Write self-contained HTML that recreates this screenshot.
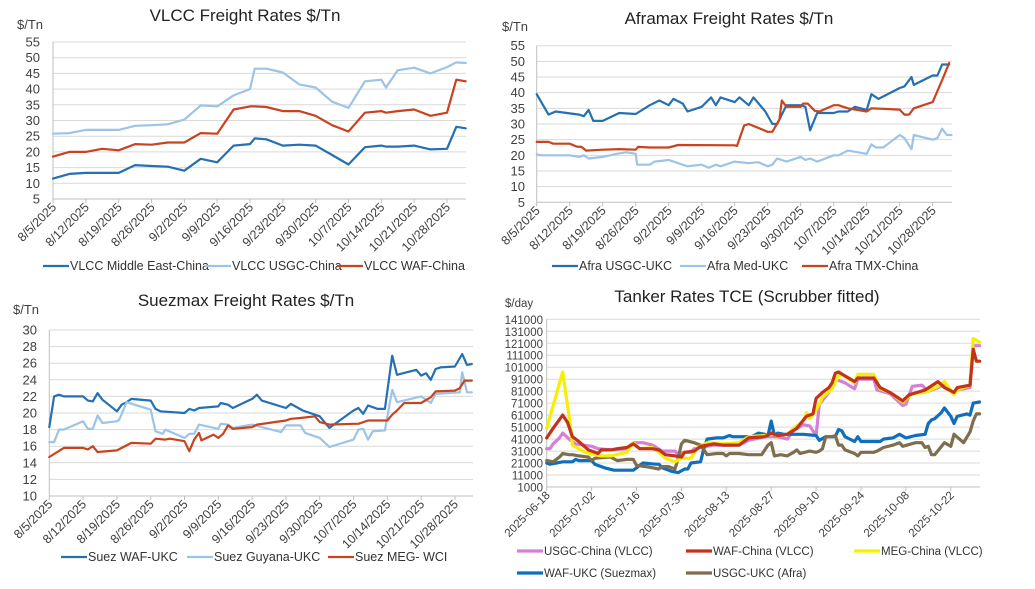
<!DOCTYPE html>
<html><head><meta charset="utf-8"><style>
html,body{margin:0;padding:0;background:#fff;}
svg{display:block;font-family:"Liberation Sans",sans-serif;}
</style></head><body>
<svg id="s" width="1035" height="589" viewBox="0 0 1035 589"></svg>
<script>
// ---- VLCC ----
const vlccDays=[0,3.5,7,10.5,14,17.5,21,24.5,28,31.5,35,38.5,42,43,45.5,49,52.5,56,59.5,63,66.5,70,71,73.5,77,80.5,84,86,88];
const vlccMeVals=[11.5,13,13.3,13.3,13.3,15.8,15.5,15.3,14,17.8,16.7,22,22.5,24.3,24,22,22.3,22,19,16,21.5,22,21.7,21.7,22,20.8,21,28,27.5];
const vlccUsgcVals=[25.8,26,27,27,27,28.3,28.5,28.8,30.3,34.8,34.5,38,40,46.5,46.5,45.3,41.5,40.5,36,34,42.5,43,40.5,46,46.8,45,47,48.5,48.3];
const vlccWafVals=[18.5,20,20,21,20.5,22.5,22.3,23,23,26,25.8,33.5,34.5,34.5,34.3,33,33,31.5,28.5,26.5,32.5,33,32.5,33,33.5,31.5,32.5,43,42.5];
const weeklyLabels=["8/5/2025","8/12/2025","8/19/2025","8/26/2025","9/2/2025","9/9/2025","9/16/2025","9/23/2025","9/30/2025","10/7/2025","10/14/2025","10/21/2025","10/28/2025"];
const tnTicks=[5,10,15,20,25,30,35,40,45,50,55];
// ---- Aframax ----
const afraUsgcDays=[0,2.5,4,9,10,11,12,14,17.5,21,24,26,28,29,31,32,35,37,38,39,42,43,45,46,48.5,50,51,53,56,57,58,59.5,63,64,66,67.5,70,71,72.5,77,78,79.5,80,84,85,86,87.5];
const afraUsgcVals=[39.5,33,34,33,32.5,34.5,31,31,33.5,33.2,36,37.5,36,38,36.5,34,35.5,38.5,36,38.5,37,38.5,36,38.5,34,30,30,36,36,35.5,28,33.5,33.5,34,34,35.5,34.5,39.5,38,41.5,42,45,42.5,45.5,45.5,49,49];
const afraMedDays=[0,1,7,9,10,11,14,17,19,21,21.3,24,25,28,32,35,36.5,38,39,42,45,47,49,50,51,53,56,57,58,59.5,63,64,66,70,71,72,73.5,77,78,79.5,80,84,85,86,87,88];
const afraMedVals=[20.3,20,20,19.5,20,19,19.5,20.5,21,20.5,17,17,18,18.5,16.5,17,16,17,16.5,18,17.5,17.8,16.5,17,19,18,19.5,18.5,19,18,20,20,21.5,20.5,23.5,22.5,22.5,26.5,25.5,22,26.5,25,25.5,28.5,26.5,26.5];
const afraTmxDays=[0,2.5,3.5,7,8.5,9.5,10.5,14,17.5,21,21.5,24,28,30,42,42.5,44,45,49,50,51.5,52,53,56,56.5,57.5,59,60,63,64,66,70,71,77,78,79,80,84,85,86,87.5];
const afraTmxVals=[24.3,24.3,23.7,23.7,22.8,22.7,21.5,21.8,22,21.8,22.7,22.5,22.5,23.3,23.2,23,29.5,30,27.5,27.5,31.5,37.5,35.5,35.5,36.5,36.5,34.2,34,36,36,35,34,35,34.6,33,33,35,37,40.5,44,49.5];
// ---- Suezmax ----
const suezWafDays=[0,1,2,3,7,8,9,10,11,14,15,16,17,21,22,23,28,29,30,31,35,35.5,37,38,42,43,44,49,50,52.5,56,58,63,64,65,66,68,69.5,71,72,76,77,78,79,80,81,84,85.5,86.5,87.5];
const suezWafVals=[18.3,22,22.2,22,22,21.5,21.4,22.4,21.6,20.2,21,21.3,21.7,21.5,20.5,20.2,20,20.5,20.3,20.6,20.8,21.2,21,20.6,21.7,22.2,21.5,20.6,21.1,20.3,19.6,18.2,20.3,20.6,19.9,20.9,20.5,20.5,26.9,24.6,25.2,24.5,24.8,24,25.3,25.5,25.6,27.1,25.8,25.9];
const suezGuyDays=[0,1,2,3,7,8,9,10,11,14,14.5,16,21,22,23.5,24,28,29,30,31,35,35.5,37,38,42,48,49,52,53,56,58,63,64,65,66,67,69.5,71,72,77,78,79,80,85,85.5,86.5,87.5];
const suezGuyVals=[16.5,16.5,18,18,19,18.1,18.1,19.7,18.8,19,19.2,21.3,20.4,17.8,17.5,18,17,17.5,17.5,18.6,18.1,18.7,18.6,18.2,18.6,17.7,18.5,18.5,17.6,17,15.9,16.8,18,18.1,16.8,17.8,17.9,22.8,21.3,22,21.6,21.2,22.3,22.5,24.9,22.5,22.5];
const suezMegDays=[0,3,7,8,9,10,14,17,21,22,24,25,28,29,30,31,31.5,34,35,36,37,38,42,43,49,50,52,55,56,58,63,64,66,70,71,72,73.5,77,79,80,84,85,86,87.5];
const suezMegVals=[14.7,15.8,15.8,15.6,16,15.3,15.5,16.4,16.3,16.9,16.8,16.9,16.6,15.4,16.8,17.6,16.7,17.4,17,17.5,18.5,18.1,18.3,18.6,19.1,19.3,19.4,19.6,18.9,18.6,18.7,18.7,19.1,19.1,19.8,20.3,21.2,21.2,21.9,22.6,22.7,23,23.9,23.9];
const suezTicks=[10,12,14,16,18,20,22,24,26,28,30];
// ---- TCE (thousand $/day) ----
const tceLabels=["2025-06-18","2025-07-02","2025-07-16","2025-07-30","2025-08-13","2025-08-27","2025-09-10","2025-09-24","2025-10-08","2025-10-22"];
const tceTicks=[1,11,21,31,41,51,61,71,81,91,101,111,121,131,141];
const tceMegDays=[0,5,7.5,8,12,15,17,20,25,27,29,33,35,37,40,42,45,47,50,55,60,63,68,70,72,75,77,80,81,82,84,86,89,91,92,96,97,102,104,107,111,114,118,122,124,127,128,132,133,135];
const tceMegVals=[50,97,50,36,30,28,27,27,30,38,33,34,30,25,22,25,25,34,38,37,38,43,44,45,44,45,50,56,63,58,65,76,83,94,95,88,95,95,83,80,72,79,80,85,89,78,82,86,125,122];
const tceWafDays=[0,2,5,6.5,8,10,13,15,16,17,20,22,25,27,29,33,35,37,40,42,43,46,48,52,55,60,63,68,70,72,75,78,81,83,84,86,88,89,90,91,96,97,102,104,107,111,113,118,122,124,127,128,132,133,134,135];
const tceWafVals=[42,50,61,55,43,39,32,30,29,32,32,33,34,37,33,33,32,28,27,26,30,31,35,37,36,36,42,43,46,44,45,50,60,62,75,80,84,88,96,97,89,92,92,84,80,73,78,82,89,84,80,84,86,116,106,106];
const tceUsgcChDays=[0,1,2,4,5,7,9,14,16,20,25,27,30,33,36,40,41,43,45,46,48,52,55,60,63,68,72,75,77,80,82,84,85,88,90,93,96,97,102,103,107,111,112,114,117,119,122,124,127,128,132,133,135];
const tceUsgcChVals=[33,33,37,42,46,41,37,35,33,32,33,38,38,36,31,31,28,30,30,33,34,36,36,36,40,43,43,41,48,53,52,44,70,80,91,88,83,91,91,82,79,69,70,85,86,81,84,87,79,82,84,119,119];
const tceWafUkcDays=[0,1,3,5,8,9,10,14,15,18,21,25,27,28,30,34,35,36,39,41,43,44,45,48,49,50,53,55,57,58,64,66,68,69,70,71,72,74,80,84,85,87,90,91,92,93,96,97,98,104,105,108,110,112,115,118,119,120,121,123,124,126,127,128,131,132,133,135];
const tceWafUkcVals=[21,20,21,22,22,24,23,23,20,17,15,15,15,17,21,20,20,17,14,13,16,16,21,22,33,41,42,42,44,43,43,46,45,44,56,44,46,45,45,44,40,43,43,49,48,43,39,43,39,39,41,42,45,42,44,45,54,57,58,63,67,60,54,60,62,61,71,72];
const tceAfraDays=[0,2,4,5,7,8,10,13,14,15,19,20,22,25,27,28,31,35,36,38,40,41,42,43,46,48,50,53,55,56,57,60,63,67,69,70,71,73,75,77,78,79,82,84,85,86,87,89,90,91,92,93,96,97,98,102,103,105,108,110,111,115,117,118,119,120,121,124,126,127,130,132,133,134,135];
const tceAfraVals=[23,22,26,29,28,28,27,26,23,25,26,26,23,24,24,19,18,16,18,18,16,25,37,40,38,36,28,29,29,27,29,29,28,28,36,38,27,28,27,30,32,29,31,30,31,33,43,43,44,36,36,32,29,27,30,30,31,34,36,38,35,38,38,34,35,28,28,38,35,45,38,47,56,62,62];

const NS="http://www.w3.org/2000/svg";
const svg=document.getElementById('s');
function mk(tag,attrs,parent){const e=document.createElementNS(NS,tag);for(const k in attrs)e.setAttribute(k,attrs[k]);(parent||svg).appendChild(e);return e;}
function txt(x,y,s,size,anchor,parent){const t=mk('text',{x:x,y:y,'font-size':size,'text-anchor':anchor||'start',fill:'#404040'},parent);t.textContent=s;return t;}

function panel(p){
  const g=mk('g',{});
  
  
  const ys=v=>p.y0+(p.vmax-v)*(p.y1-p.y0)/(p.vmax-p.vmin);
  const xs=d=>p.x0+d*p.dx;
  // title
  const t=txt(p.tx,p.ty,p.title,17,'middle',g);t.setAttribute('fill','#222');
  
  
  const u=txt(p.ux,p.uy,p.unit,p.fs,'start',g);
  
  
  // grid & ticks
  p.ticks.forEach((v,i)=>{
    const y=ys(v);
    const l=mk('line',{x1:p.x0,x2:p.xr,y1:y,y2:y,stroke:i==0?'#bfbfbf':'#d9d9d9','stroke-width':1},g);
    
    
    const tl=txt(p.lx,y+4.5,p.fmt?p.fmt(v):String(v),p.fs,'end',g);
    
    
  });
  const ax=mk('line',{x1:p.x0,x2:p.x0,y1:ys(p.vmax),y2:ys(p.vmin),stroke:'#bfbfbf'},g);
  
  
  p.xlabels.forEach((s,i)=>{
    const x=xs(i*p.step);
    const tk=mk('line',{x1:x,x2:x,y1:ys(p.vmin),y2:ys(p.vmin)+4,stroke:'#bfbfbf'},g);
    
    
    const xl=txt(0,0,s,p.xfs,'end',g);
    xl.setAttribute('transform','translate('+(x+4)+','+(ys(p.vmin)+9)+') rotate(-45)');
    
    
  });
  p.series.forEach(s=>{
    const pts=s.days.map((d,i)=>xs(d).toFixed(1)+','+ys(s.vals[i]).toFixed(1)).join(' ');
    const pl=mk('polyline',{points:pts,fill:'none',stroke:s.color,'stroke-width':p.sw,'stroke-linejoin':'round','stroke-linecap':'round'},g);
    
    
  });
  p.series.forEach(s=>{
    const lg=mk('g',{},g);
    
    
    mk('line',{x1:s.lg[0],x2:s.lg[0]+26,y1:s.lg[1]-4,y2:s.lg[1]-4,stroke:s.color,'stroke-width':p.sw},lg);
    const lt=txt(s.lg[0]+27,s.lg[1],s.label,p.lfs,'start',lg);
    lt.setAttribute('fill','#333');
  });
}
const B='#2470b2',LB='#9dc3e6',R='#c9431f';
panel({name:'vlcc-chart',title:'VLCC Freight Rates $/Tn',tx:245,ty:21,unit:'$/Tn',ux:17,uy:29,fs:13,xfs:12.5,lfs:12.5,
  vmin:5,vmax:55,y0:42,y1:199,x0:53,xr:466,dx:4.69,lx:40,ticks:tnTicks,xlabels:weeklyLabels,step:7,sw:2.2,
  series:[{id:'vlcc-me-china',days:vlccDays,vals:vlccMeVals,color:B,label:'VLCC Middle East-China',lg:[43,270]},
          {id:'vlcc-usgc-china',days:vlccDays,vals:vlccUsgcVals,color:LB,label:'VLCC USGC-China',lg:[205,270]},
          {id:'vlcc-waf-china',days:vlccDays,vals:vlccWafVals,color:R,label:'VLCC WAF-China',lg:[337,270]}]});
panel({name:'aframax-chart',title:'Aframax Freight Rates $/Tn',tx:729,ty:24,unit:'$/Tn',ux:502,uy:31,fs:13,xfs:12.5,lfs:12.5,
  vmin:5,vmax:55,y0:45.7,y1:202.3,x0:536.7,xr:952,dx:4.714,lx:525,ticks:tnTicks,xlabels:weeklyLabels,step:7,sw:2.2,
  series:[{id:'afra-usgc-ukc',days:afraUsgcDays,vals:afraUsgcVals,color:B,label:'Afra USGC-UKC',lg:[552,270]},
          {id:'afra-med-ukc',days:afraMedDays,vals:afraMedVals,color:LB,label:'Afra Med-UKC',lg:[680,270]},
          {id:'afra-tmx-china',days:afraTmxDays,vals:afraTmxVals,color:R,label:'Afra TMX-China',lg:[802,270]}]});
panel({name:'suezmax-chart',title:'Suezmax Freight Rates $/Tn',tx:246,ty:306,unit:'$/Tn',ux:13,uy:314,fs:13,xfs:12.5,lfs:12.5,
  vmin:10,vmax:30,y0:330,y1:496,x0:49.3,xr:473,dx:4.829,lx:37,ticks:suezTicks,xlabels:weeklyLabels,step:7,sw:2.2,
  series:[{id:'suez-waf-ukc',days:suezWafDays,vals:suezWafVals,color:B,label:'Suez WAF-UKC',lg:[61,561]},
          {id:'suez-guyana-ukc',days:suezGuyDays,vals:suezGuyVals,color:LB,label:'Suez Guyana-UKC',lg:[187,561]},
          {id:'suez-meg-wci',days:suezMegDays,vals:suezMegVals,color:R,label:'Suez MEG- WCI',lg:[328,561]}]});
panel({name:'tce-chart',title:'Tanker Rates TCE (Scrubber fitted)',tx:747,ty:302,unit:'$/day',ux:505,uy:307,fs:11.5,xfs:11.5,lfs:11.5,fmt:v=>String(v*1000),
  vmin:1,vmax:141,y0:319.3,y1:487,x0:546.7,xr:980,dx:3.207,lx:543,ticks:tceTicks,xlabels:tceLabels,step:14,sw:3.2,
  series:[{id:'tce-usgc-china',days:tceUsgcChDays,vals:tceUsgcChVals,color:'#d67fd6',label:'USGC-China (VLCC)',lg:[517,555]},
          {id:'tce-waf-ukc',days:tceWafUkcDays,vals:tceWafUkcVals,color:'#0f6fbd',label:'WAF-UKC (Suezmax)',lg:[517,577]},
          {id:'tce-usgc-ukc',days:tceAfraDays,vals:tceAfraVals,color:'#7f6e4e',label:'USGC-UKC (Afra)',lg:[686,577]},
          {id:'tce-meg-china',days:tceMegDays,vals:tceMegVals,color:'#f5f000',label:'MEG-China (VLCC)',lg:[854,555]},
          {id:'tce-waf-china',days:tceWafDays,vals:tceWafVals,color:'#c3321a',label:'WAF-China (VLCC)',lg:[686,555]}]});
</script>
</body></html>
